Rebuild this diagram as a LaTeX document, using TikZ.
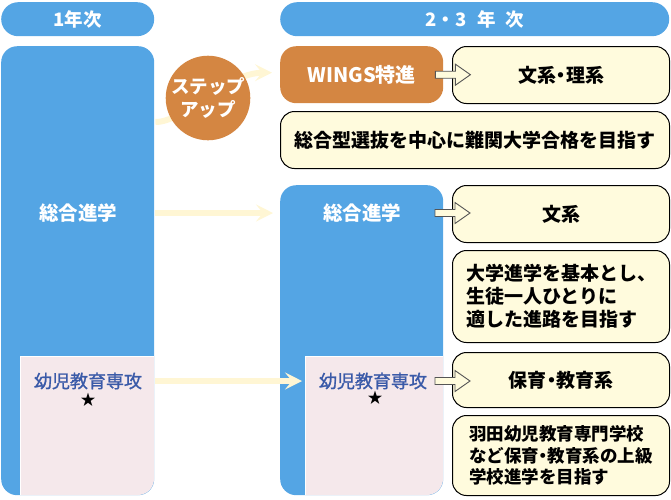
\documentclass[tikz,border=0pt]{standalone}
\usepackage{fontspec}
\setmainfont{Noto Sans CJK JP}
\newfontfamily\kidfont{Noto Sans CJK JP}[FakeBold=1.2]
\usetikzlibrary{arrows.meta,calc}
\definecolor{blueC}{RGB}{84,165,228}
\definecolor{orangeC}{RGB}{212,134,66}
\definecolor{pinkC}{RGB}{245,232,235}
\definecolor{beigeC}{RGB}{255,251,221}
\definecolor{flowC}{RGB}{255,246,212}
\definecolor{kidC}{RGB}{58,90,168}
\definecolor{edgeC}{RGB}{85,85,85}
\newcommand\harrowat[1]{\draw[harrow] ($(#1)+(0,-3.5)$) -- ++(20,0) -- ++(0,-7) -- ++(15,10.5) -- ++(-15,10.5) -- ++(0,-7) -- ++(-20,0) -- cycle;}
\newcommand\nd{\kern-4.5pt・\kern-4.5pt}
\begin{document}
\begin{tikzpicture}[x=1pt,y=-1pt,
  hdr/.style={fill=blueC, rounded corners=17pt, text=white, inner sep=0pt, anchor=north west,
    font=\fontsize{18.5}{20}\selectfont\bfseries},
  bluebox/.style={fill=blueC, rounded corners=16pt, inner sep=0pt, anchor=north west},
  orbox/.style={fill=orangeC, rounded corners=16pt, inner sep=0pt, anchor=north west, text=white,
    font=\fontsize{20}{22}\selectfont\bfseries},
  ybox/.style={fill=beigeC, draw=black, line width=1pt, rounded corners=14pt, inner sep=0pt,
    anchor=north west, align=left, font=\fontsize{19}{23}\selectfont\bfseries},
  wlbl/.style={text=white, inner sep=0pt, font=\fontsize{19.5}{21}\selectfont\bfseries},
  kid/.style={text=kidC, inner sep=0pt, font=\fontsize{18}{20}\selectfont\kidfont},
  starlbl/.style={inner sep=0pt, font=\fontsize{15}{16}\selectfont},
  flow/.style={draw=flowC, line width=6pt, -{Stealth[length=17pt,width=17pt,inset=7pt]}},
  harrow/.style={draw=edgeC, fill=beigeC, line width=0.9pt, line join=miter}
]
\useasboundingbox (0,0) rectangle (671,499);
% headers
\node[hdr, minimum width=153, minimum height=34] (h1) at (1,2) {1年次};
\node[hdr, minimum width=389, minimum height=34] (h2) at (280,2)
  {2\kern0.5pt・\kern0.5pt3\kern10.5pt年\kern9.5pt次};
% main columns
\node[bluebox, minimum width=153, minimum height=449] (left) at (1,46) {};
\node[bluebox, minimum width=163, minimum height=310] (mid) at (280,185) {};
\node[orbox, minimum width=163, minimum height=57] (wings) at (280,46) {WINGS特進};
% pink sub-areas
\fill[pinkC] (20,495) -- (20,356) -- (154,356) -- (154,479) arc[start angle=0,end angle=90,radius=16] -- cycle;
\draw[white, line width=1pt] (20,495) -- (20,356) -- (154,356);
\fill[pinkC] (305,495) -- (305,356) -- (443,356) -- (443,479) arc[start angle=0,end angle=90,radius=16] -- cycle;
\draw[white, line width=1pt] (305,495) -- (305,356) -- (443,356);
% labels in columns
\node[wlbl] (ltxt) at (78,213) {総合進学};
\node[kid] (lkid) at (88,381) {幼児教育専攻};
\node[starlbl] (lstar) at (88,400) {★};
\node[wlbl] (mtxt) at (362,213) {総合進学};
\node[kid] (mkid) at (373,381) {幼児教育専攻};
\node[starlbl] (mstar) at (375,398) {★};
% right boxes
\node[ybox, minimum width=217, minimum height=57] (bunri) at (452,46) {文系\nd 理系};
\node[ybox, minimum width=389, minimum height=57] (nankan) at (280,111) {総合型選抜を中心に難関大学合格を目指す};
\node[ybox, minimum width=217, minimum height=57] (bun) at (452,185) {文系};
\node[ybox, minimum width=217, minimum height=92] (kihon) at (452,250) {大学進学を基本とし、\\生徒一人ひとりに\\適した進路を目指す};
\node[ybox, minimum width=217, minimum height=55] (hoiku) at (452,352) {保育\nd 教育系};
\node[ybox, minimum width=217, minimum height=80, font=\fontsize{17.5}{21.5}\selectfont\bfseries] (haneda) at (452,415)
  {羽田幼児教育専門学校\\など保育\nd 教育系の上級\\学校進学を目指す};
% flow arrows
\draw[flow] ($(left.north east)+(1,76)$) .. controls ($(left.north east)+(31,76)$) and ($(wings.west)+(-55,-2)$) .. ($(wings.west)+(-8,-2)$);
\draw[flow] ($(left.east |- ltxt)+(1,0)$) -- ($(mid.west |- mtxt)+(-7,0)$);
\draw[flow] ($(left.east |- lkid)+(1,0)$) -- ($(mid.west |- mkid)+(22,0)$);
% step-up circle
\node[circle, fill=orangeC, minimum size=79, inner sep=0pt, text=white, align=center,
  font=\fontsize{18.5}{23}\selectfont\bfseries] (step) at (208,98) {ステップ\\アップ};
% hollow arrows
\coordinate (a1) at ($(wings.east)+(-8,0)$);
\coordinate (a2) at ($(mid.west |- mtxt)+(155,0)$);
\coordinate (a3) at ($(mid.west |- mkid)+(155,0)$);
\harrowat{a1}
\harrowat{a2}
\harrowat{a3}
\end{tikzpicture}
\end{document}
